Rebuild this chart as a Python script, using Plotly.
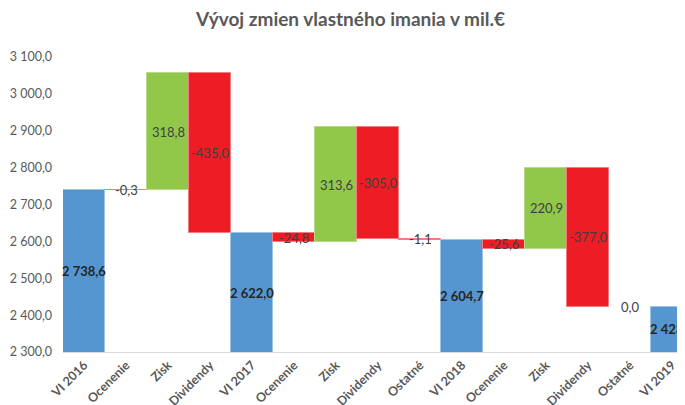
import plotly.graph_objects as go

categories = ["VI 2016", "Ocenenie", "Zisk", "Dividendy", "VI 2017", "Ocenenie", "Zisk",
              "Dividendy", "Ostatné", "VI 2018", "Ocenenie", "Zisk", "Dividendy", "Ostatné", "VI 2019"]
values = [2738.6, -0.3, 318.8, -435.0, 2622.0, -24.8, 313.6, -305.0, -1.1, 2604.7,
          -25.6, 220.9, -377.0, 0.0, 2423.0]
measures = ["absolute", "relative", "relative", "relative", "absolute", "relative", "relative",
            "relative", "relative", "absolute", "relative", "relative", "relative", "relative", "absolute"]
y_ticks = [2300, 2400, 2500, 2600, 2700, 2800, 2900, 3000, 3100]
y_min, y_max = 2300, 3100


def fmt(v):
    return f"{v:,.1f}".replace(",", " ").replace(".", ",")


xs = list(range(len(categories)))

fig = go.Figure(go.Waterfall(
    x=xs,
    y=values,
    measure=measures,
    base=0,
    increasing=dict(marker=dict(color="#92C84A", line=dict(color="#B5DA8A", width=1))),
    decreasing=dict(marker=dict(color="#EE1C25", line=dict(color="#F47C80", width=1))),
    totals=dict(marker=dict(color="#5596D1", line=dict(color="#9DC3E6", width=1))),
    connector=dict(visible=False),
    hoverinfo="x+y",
))

# data labels centred on each bar (positions derived from the data)
running = 0.0
for i, (v, m) in enumerate(zip(values, measures)):
    if m == "absolute":
        lo, hi = y_min, v
        running = v
        weight = 700
        color = "#262626"
    else:
        lo, hi = running, running + v
        running += v
        weight = 400
        color = "#404040"
    fig.add_annotation(x=i, y=(lo + hi) / 2, text=fmt(v), showarrow=False,
                       xanchor="center", yanchor="middle",
                       font=dict(family="Lato, sans-serif", size=13, color=color, weight=weight))

fig.update_layout(
    width=685, height=405,
    paper_bgcolor="white", plot_bgcolor="white",
    separators=", ",
    margin=dict(l=55, r=0, t=49, b=61),
    waterfallgap=0,
    showlegend=False,
    title=dict(text="Vývoj zmien vlastného imania v mil.€", x=0.5, xanchor="center",
               y=0.972, yanchor="middle",
               font=dict(family="Lato, sans-serif", size=19, color="#595959", weight=700)),
    font=dict(family="Lato, sans-serif", color="#595959"),
)
fig.update_xaxes(
    tickmode="array", tickvals=xs, ticktext=categories,
    tickangle=-45, tickfont=dict(size=12.5, color="#595959", weight=700),
    showgrid=False, showline=True, linecolor="#D9D9D9", linewidth=1,
    range=[-0.5, len(categories) - 0.5], ticks="", automargin=False,
)
fig.update_yaxes(
    range=[y_min, y_max], tickvals=y_ticks, tickformat=",.1f",
    showgrid=False, zeroline=False, showline=False, automargin=False,
    tickfont=dict(size=12.5, color="#595959"), ticks="", ticklabelstandoff=10,
)

fig.write_html("out.html")
